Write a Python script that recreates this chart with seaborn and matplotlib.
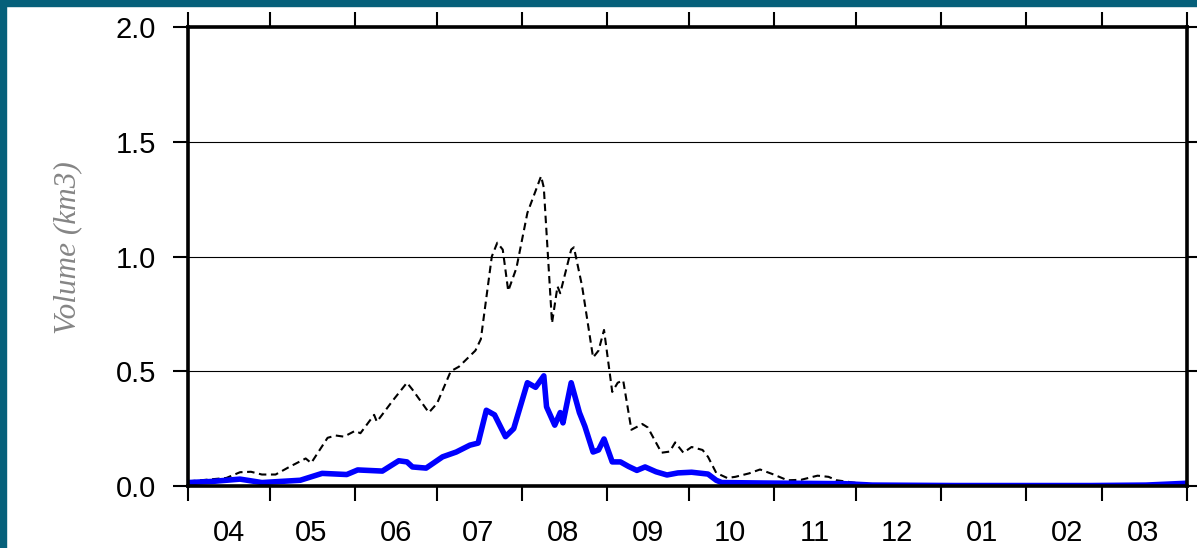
import pandas as pd
import matplotlib.pyplot as plt
import matplotlib.dates as mdates
from matplotlib.patches import Rectangle
from matplotlib.ticker import MultipleLocator, FormatStrFormatter
import seaborn as sns

# Water year Apr -> Mar (days since 1 Apr)
START = pd.Timestamp("2018-04-01")

total_day = [0, 14, 19, 23, 27, 32, 37, 43, 45, 51, 54, 57, 61, 63, 68, 69, 75, 80, 82,
             88, 91, 96, 99, 105, 107, 111, 113, 115, 117, 120, 124, 129, 130, 133, 135,
             136, 140, 141, 144, 148, 150, 152, 155, 157, 159, 162, 166, 168, 173, 176,
             178, 181, 184, 188, 190, 193, 197, 200, 205, 209, 214, 219, 224, 230, 234,
             237, 243, 250, 265, 300, 340, 365]
total_vol = [0.02, 0.035, 0.06, 0.062, 0.05, 0.05, 0.083, 0.12, 0.10, 0.21, 0.22, 0.215,
             0.24, 0.23, 0.31, 0.28, 0.375, 0.45, 0.42, 0.32, 0.36, 0.50, 0.52, 0.59, 0.64,
             1.0, 1.06, 1.03, 0.85, 0.95, 1.19, 1.35, 1.30, 0.71, 0.87, 0.84, 1.03, 1.04,
             0.87, 0.56, 0.59, 0.68, 0.41, 0.45, 0.46, 0.245, 0.27, 0.255, 0.145, 0.15,
             0.19, 0.145, 0.17, 0.157, 0.127, 0.057, 0.035, 0.04, 0.055, 0.072, 0.05,
             0.025, 0.027, 0.045, 0.04, 0.025, 0.015, 0.008, 0.004, 0.003, 0.004, 0.006]

blue_day = [0, 9, 19, 27, 34, 41, 45, 49, 58, 62, 71, 77, 80, 82, 87, 93, 98, 103, 106,
            109, 112, 116, 119, 124, 127, 130, 131, 134, 136, 137, 140, 143, 145, 148,
            150, 152, 155, 158, 161, 164, 167, 171, 175, 179, 184, 190, 193, 195, 210,
            240, 250, 280, 330, 350, 365]
blue_vol = [0.015, 0.02, 0.03, 0.015, 0.02, 0.025, 0.04, 0.055, 0.05, 0.07, 0.065, 0.11,
            0.105, 0.083, 0.078, 0.127, 0.148, 0.178, 0.187, 0.33, 0.31, 0.215, 0.25,
            0.45, 0.43, 0.48, 0.345, 0.265, 0.32, 0.275, 0.45, 0.32, 0.26, 0.148, 0.157,
            0.205, 0.105, 0.105, 0.085, 0.068, 0.083, 0.062, 0.048, 0.057, 0.06, 0.052,
            0.025, 0.015, 0.013, 0.01, 0.004, 0.002, 0.002, 0.004, 0.012]

month_labels = ["04", "05", "06", "07", "08", "09", "10", "11", "12", "01", "02", "03"]

sns.set_style("white")
plt.rcParams["font.family"] = ["Liberation Sans", "DejaVu Sans"]

df_total = pd.DataFrame({"date": START + pd.to_timedelta(total_day, unit="D"), "vol": total_vol})
df_blue = pd.DataFrame({"date": START + pd.to_timedelta(blue_day, unit="D"), "vol": blue_vol})

fig = plt.figure(figsize=(11.97, 5.48), dpi=100, facecolor="white")
# teal frame strips on top and left
fig.add_artist(Rectangle((0, 0), 6 / 1197, 1, transform=fig.transFigure, color="#06607a", zorder=0))
fig.add_artist(Rectangle((0, 1 - 6 / 548), 1, 6 / 548, transform=fig.transFigure, color="#06607a", zorder=0))

ax = fig.add_axes([188 / 1197, 62 / 548, 999 / 1197, 459 / 548])

sns.lineplot(data=df_total, x="date", y="vol", ax=ax, color="black", lw=1.5,
             linestyle=(0, (3.6, 2.2)), zorder=3)
sns.lineplot(data=df_blue, x="date", y="vol", ax=ax, color="#0000ff", lw=4.0, zorder=4)

ax.set_xlim(START, START + pd.Timedelta(days=365))
ax.set_ylim(0, 2.0)

# month boundaries as ticks, month labels in the middle
ax.xaxis.set_major_locator(mdates.MonthLocator())
ax.xaxis.set_major_formatter(plt.NullFormatter())
mids = [START + pd.DateOffset(months=i) + pd.Timedelta(days=15) for i in range(12)]
ax.set_xticks(mids, minor=True)
ax.set_xticklabels(month_labels, minor=True)
ax.tick_params(axis="x", which="minor", length=0, pad=24, labelsize=21, labelcolor="black")
ax.tick_params(axis="x", which="major", direction="out", length=11, width=1.5,
               top=True, bottom=True, color="black")

ax.yaxis.set_major_locator(MultipleLocator(0.5))
ax.yaxis.set_major_formatter(FormatStrFormatter("%.1f"))
ax.tick_params(axis="y", which="major", direction="out", length=11, width=1.5,
               left=True, right=True, pad=12, labelsize=21, color="black",
               labelcolor="black")

ax.yaxis.grid(True, color="black", lw=0.8)
ax.xaxis.grid(False)
for s in ax.spines.values():
    s.set_visible(True)
    s.set_color("black")
    s.set_linewidth(2.6)
    s.set_zorder(5)

ax.set_xlabel("")
ax.set_ylabel("Volume (km3)", family=["Liberation Serif", "DejaVu Serif"], style="italic",
              fontsize=22.5, color="#858585")
ax.yaxis.set_label_coords(-0.106, 0.52)

plt.savefig("out.png", dpi=100)
plt.close()
